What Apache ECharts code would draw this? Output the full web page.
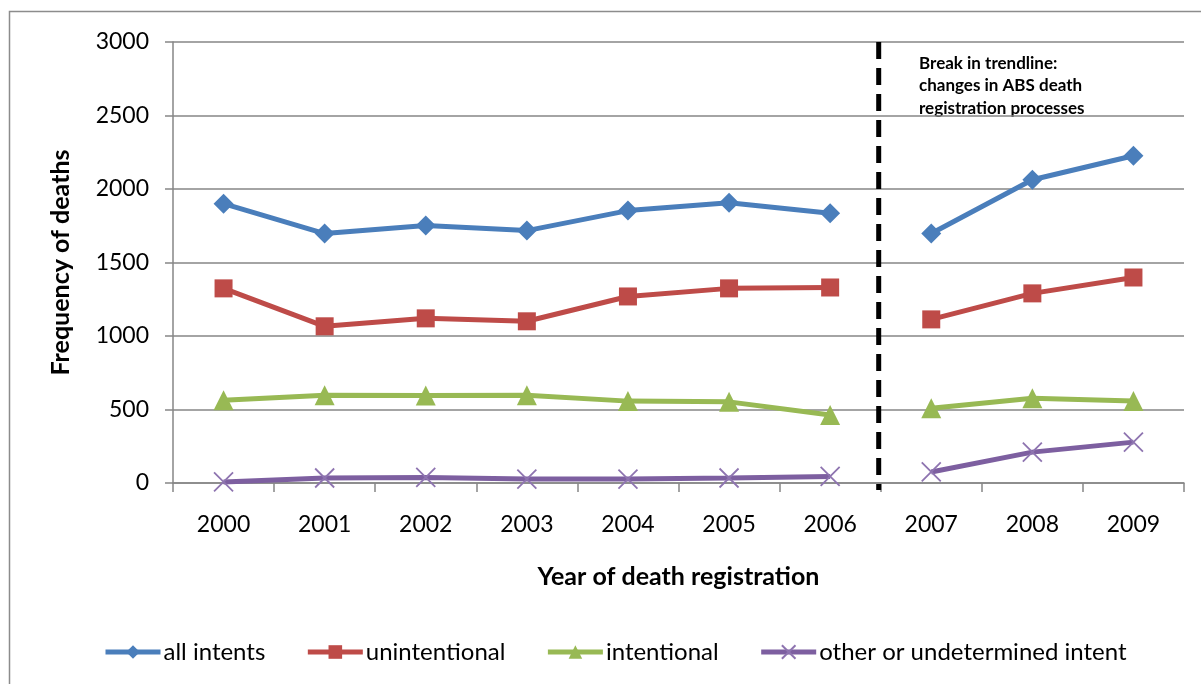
<!DOCTYPE html>
<html>
<head>
<meta charset="utf-8">
<script src="https://cdn.jsdelivr.net/npm/echarts@6/dist/echarts.min.js"></script>
<style>
  html, body { margin: 0; padding: 0; background: #fff; }
  #chart { width: 1201px; height: 684px; }
</style>
</head>
<body>
<div id="chart"></div>
<script>
// Deaths by year of registration, by intent
const years = ['2000', '2001', '2002', '2003', '2004', '2005', '2006', '2007', '2008', '2009'];
const allIntents = [1900, 1697, 1751, 1717, 1853, 1907, 1835, 1697, 2063, 2226];
const unintentional = [1324, 1066, 1120, 1100, 1269, 1324, 1330, 1113, 1290, 1398];
const intentional = [563, 597, 595, 597, 557, 552, 462, 509, 577, 557];
const otherIntent = [7, 34, 38, 27, 27, 34, 45, 75, 210, 278];
const yTicks = { min: 0, max: 3000, interval: 500 };
const breakIndex = 7; // registration process changed from 2007

const FONT = 'Lato, "Open Sans", sans-serif';

// split a series at the trend break so the two periods are not joined
function before(arr) { return arr.map((v, i) => (i < breakIndex ? v : null)); }
function after(arr) { return arr.map((v, i) => (i >= breakIndex ? v : null)); }

const crossPath = 'path://M0,0 L10,10 M10,0 L0,10';

const groups = [
  { name: 'all intents', data: allIntents, color: '#4A7EBB', symbol: 'diamond', size: 20 },
  { name: 'unintentional', data: unintentional, color: '#BE4B48', symbol: 'rect', size: 18 },
  { name: 'intentional', data: intentional, color: '#98B954', symbol: 'triangle', size: 20 },
  { name: 'other or undetermined intent', data: otherIntent, color: '#7D5FA0', symbol: crossPath, size: 19, cross: true }
];

const series = [];
groups.forEach(g => {
  [before(g.data), after(g.data)].forEach(part => {
    series.push({
      name: g.name,
      type: 'line',
      data: part,
      connectNulls: false,
      symbol: g.symbol,
      symbolSize: g.size,
      showAllSymbol: true,
      lineStyle: { color: g.color, width: 5 },
      itemStyle: g.cross
        ? { color: 'rgba(0,0,0,0)', borderColor: '#8E74B0', borderWidth: 1.8 }
        : { color: g.color, borderWidth: 0 },
      emphasis: { disabled: true },
      animation: false,
      z: 3
    });
  });
});

const chart = echarts.init(document.getElementById('chart'));
chart.setOption({
  backgroundColor: '#fff',
  animation: false,
  grid: { left: 173, right: 17, top: 42, bottom: 201 },
  legend: {
    data: groups.map(g => g.name),
    bottom: 20,
    left: 103,
    padding: 0,
    itemWidth: 55,
    itemHeight: 17,
    itemGap: 40,
    lineStyle: { width: 5 },
    textStyle: { fontFamily: FONT, fontSize: 24, color: '#000', padding: [0, 0, 0, -2] },
    selectedMode: false
  },
  xAxis: [
    {
      type: 'category',
      data: years,
      boundaryGap: true,
      name: 'Year of death registration',
      nameLocation: 'middle',
      nameGap: 81,
      nameTextStyle: { fontFamily: FONT, fontSize: 25, fontWeight: 'bold', color: '#000' },
      axisLine: { lineStyle: { color: '#868686', width: 1.5 } },
      axisTick: { show: true, length: 9, lineStyle: { color: '#868686', width: 1.5 } },
      axisLabel: { fontFamily: FONT, fontSize: 23, color: '#000', margin: 30 },
      splitLine: { show: false }
    },
    {
      // continuous companion axis spanning the category bands, used to place the break
      type: 'value',
      min: 0,
      max: years.length,
      show: false
    }
  ],
  yAxis: {
    type: 'value',
    min: yTicks.min,
    max: yTicks.max,
    interval: yTicks.interval,
    name: 'Frequency of deaths',
    nameLocation: 'middle',
    nameGap: 100,
    nameTextStyle: { fontFamily: FONT, fontSize: 25, fontWeight: 'bold', color: '#000' },
    axisLine: { show: true, lineStyle: { color: '#868686', width: 1.5 } },
    axisTick: { show: true, length: 8, lineStyle: { color: '#868686', width: 1.5 } },
    axisLabel: { fontFamily: FONT, fontSize: 23, color: '#000', margin: 24, formatter: v => String(v) },
    splitLine: { show: true, lineStyle: { color: '#868686', width: 1.5 } }
  },
  graphic: [
    {
      id: 'frame',
      type: 'rect',
      shape: { x: 9.5, y: 11.5, width: 1400, height: 900 },
      style: { fill: 'none', stroke: '#8c8c8c', lineWidth: 1.5 },
      silent: true,
      z: -1
    },
    {
      id: 'note',
      type: 'text',
      left: 919,
      top: 52,
      style: {
        text: 'Break in trendline:\nchanges in ABS death\nregistration processes',
        fontFamily: FONT,
        fontSize: 17,
        fontWeight: 'bold',
        lineHeight: 22.5,
        fill: '#000'
      },
      silent: true
    }
  ],
  series: series
});

// dashed divider at the break, positioned through the chart's own axes
const breakTop = chart.convertToPixel({ xAxisIndex: 1, yAxisIndex: 0 }, [breakIndex, yTicks.max]);
const breakBottom = chart.convertToPixel({ xAxisIndex: 1, yAxisIndex: 0 }, [breakIndex, yTicks.min]);
if (breakTop && breakBottom) {
  chart.setOption({
    graphic: [
      {
        id: 'break-line',
        type: 'line',
        shape: { x1: breakTop[0] - 2, y1: breakTop[1], x2: breakBottom[0] - 2, y2: breakBottom[1] + 7 },
        style: { stroke: '#000', lineWidth: 5, lineDash: [17, 9] },
        silent: true,
        z: 5
      }
    ]
  });
}
</script>
</body>
</html>
